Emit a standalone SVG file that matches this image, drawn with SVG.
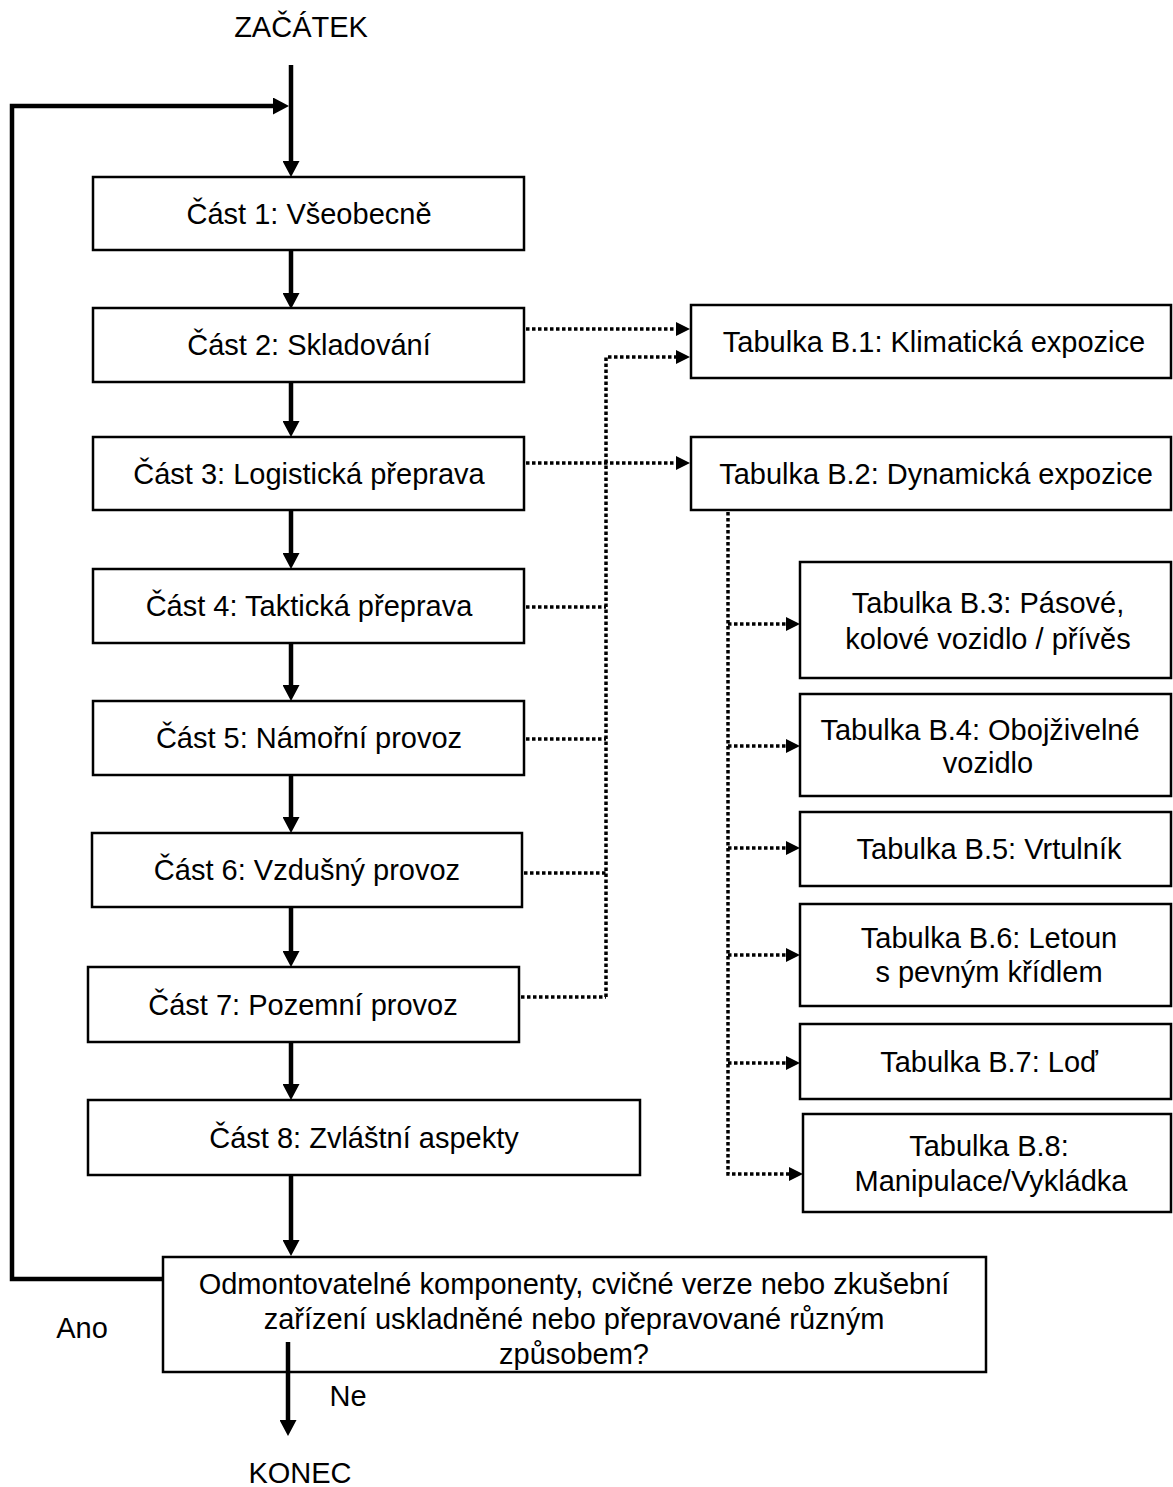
<svg xmlns="http://www.w3.org/2000/svg" width="1173" height="1487" viewBox="0 0 1173 1487">
<style>
.box{fill:#fff;stroke:#000;stroke-width:2.5}
.t{font-family:"Liberation Sans",Arial,sans-serif;font-size:29px;text-anchor:middle;fill:#000}
.solid{stroke:#000;stroke-width:4.5;fill:none}
.dot{stroke:#000;stroke-width:3.5;stroke-dasharray:3.5 2.5;fill:none}
</style>
<defs>
<marker id="ah" markerUnits="userSpaceOnUse" markerWidth="17" markerHeight="17" refX="9" refY="8.5" orient="auto">
<path d="M0,0 L16,8.5 L0,17 Z" fill="#000"/>
</marker>
<marker id="ahd" markerUnits="userSpaceOnUse" markerWidth="15" markerHeight="15" refX="8" refY="7" orient="auto">
<path d="M0,0 L14,7 L0,14 Z" fill="#000"/>
</marker>
</defs>
<rect width="1173" height="1487" fill="#fff"/>

<g id="start"><text class="t" x="301" y="37">ZAČÁTEK</text></g>

<g id="cast1"><rect class="box" x="93" y="177" width="431" height="73"/><text class="t" x="309" y="224">Část 1: Všeobecně</text></g>
<g id="cast2"><rect class="box" x="93" y="308" width="431" height="74"/><text class="t" x="309" y="355">Část 2: Skladování</text></g>
<g id="cast3"><rect class="box" x="93" y="437" width="431" height="73"/><text class="t" x="309" y="484">Část 3: Logistická přeprava</text></g>
<g id="cast4"><rect class="box" x="93" y="569" width="431" height="74"/><text class="t" x="309" y="616">Část 4: Taktická přeprava</text></g>
<g id="cast5"><rect class="box" x="93" y="701" width="431" height="74"/><text class="t" x="309" y="748">Část 5: Námořní provoz</text></g>
<g id="cast6"><rect class="box" x="92" y="833" width="430" height="74"/><text class="t" x="307" y="880">Část 6: Vzdušný provoz</text></g>
<g id="cast7"><rect class="box" x="88" y="967" width="431" height="75"/><text class="t" x="303" y="1015">Část 7: Pozemní provoz</text></g>
<g id="cast8"><rect class="box" x="88" y="1100" width="552" height="75"/><text class="t" x="364" y="1148">Část 8: Zvláštní aspekty</text></g>

<g id="decision"><rect class="box" x="163" y="1257" width="823" height="115"/>
<text class="t" x="574" y="1294">Odmontovatelné komponenty, cvičné verze nebo zkušební</text>
<text class="t" x="574" y="1329">zařízení uskladněné nebo přepravované různým</text>
<text class="t" x="574" y="1364">způsobem?</text></g>

<g id="ano"><text class="t" x="82" y="1338">Ano</text></g>
<g id="ne"><text class="t" x="348" y="1406">Ne</text></g>
<g id="end"><text class="t" x="300" y="1483">KONEC</text></g>

<g id="b1"><rect class="box" x="691" y="305" width="480" height="73"/><text class="t" x="934" y="352">Tabulka B.1: Klimatická expozice</text></g>
<g id="b2"><rect class="box" x="691" y="437" width="480" height="73"/><text class="t" x="936" y="484">Tabulka B.2: Dynamická expozice</text></g>
<g id="b3"><rect class="box" x="800" y="562" width="371" height="116"/><text class="t" x="988" y="613">Tabulka B.3: Pásové,</text><text class="t" x="988" y="649">kolové vozidlo / přívěs</text></g>
<g id="b4"><rect class="box" x="800" y="694" width="371" height="102"/><text class="t" x="980" y="740">Tabulka B.4: Obojživelné</text><text class="t" x="988" y="773">vozidlo</text></g>
<g id="b5"><rect class="box" x="800" y="812" width="371" height="74"/><text class="t" x="989" y="859">Tabulka B.5: Vrtulník</text></g>
<g id="b6"><rect class="box" x="800" y="904" width="371" height="102"/><text class="t" x="989" y="948">Tabulka B.6: Letoun</text><text class="t" x="989" y="982">s pevným křídlem</text></g>
<g id="b7"><rect class="box" x="800" y="1024" width="371" height="75"/><text class="t" x="989" y="1072">Tabulka B.7: Loď</text></g>
<g id="b8"><rect class="box" x="803" y="1114" width="368" height="98"/><text class="t" x="989" y="1156">Tabulka B.8:</text><text class="t" x="991" y="1191">Manipulace/Vykládka</text></g>

<g id="connectors">
<path class="solid" d="M291,65 L291,170" marker-end="url(#ah)"/>
<path class="solid" d="M162,1279 L12,1279 L12,106 L282,106" marker-end="url(#ah)"/>
<path class="solid" d="M291,251 L291,302" marker-end="url(#ah)"/>
<path class="solid" d="M291,383 L291,430" marker-end="url(#ah)"/>
<path class="solid" d="M291,511 L291,562" marker-end="url(#ah)"/>
<path class="solid" d="M291,644 L291,694" marker-end="url(#ah)"/>
<path class="solid" d="M291,776 L291,826" marker-end="url(#ah)"/>
<path class="solid" d="M291,908 L291,960" marker-end="url(#ah)"/>
<path class="solid" d="M291,1043 L291,1093" marker-end="url(#ah)"/>
<path class="solid" d="M291,1176 L291,1249" marker-end="url(#ah)"/>
<path class="solid" d="M288,1342 L288,1429" marker-end="url(#ah)"/>
<path class="dot" d="M526,329 L684,329" marker-end="url(#ahd)"/>
<path class="dot" d="M606,997 L606,357 L684,357" marker-end="url(#ahd)"/>
<path class="dot" d="M526,463 L684,463" marker-end="url(#ahd)"/>
<path class="dot" d="M526,607 L606,607"/>
<path class="dot" d="M526,739 L606,739"/>
<path class="dot" d="M524,873 L606,873"/>
<path class="dot" d="M521,997 L606,997"/>
<path class="dot" d="M728,512 L728,1174 L797,1174" marker-end="url(#ahd)"/>
<path class="dot" d="M728,624 L794,624" marker-end="url(#ahd)"/>
<path class="dot" d="M728,746 L794,746" marker-end="url(#ahd)"/>
<path class="dot" d="M728,848 L794,848" marker-end="url(#ahd)"/>
<path class="dot" d="M728,955 L794,955" marker-end="url(#ahd)"/>
<path class="dot" d="M728,1063 L794,1063" marker-end="url(#ahd)"/>
</g>
</svg>
